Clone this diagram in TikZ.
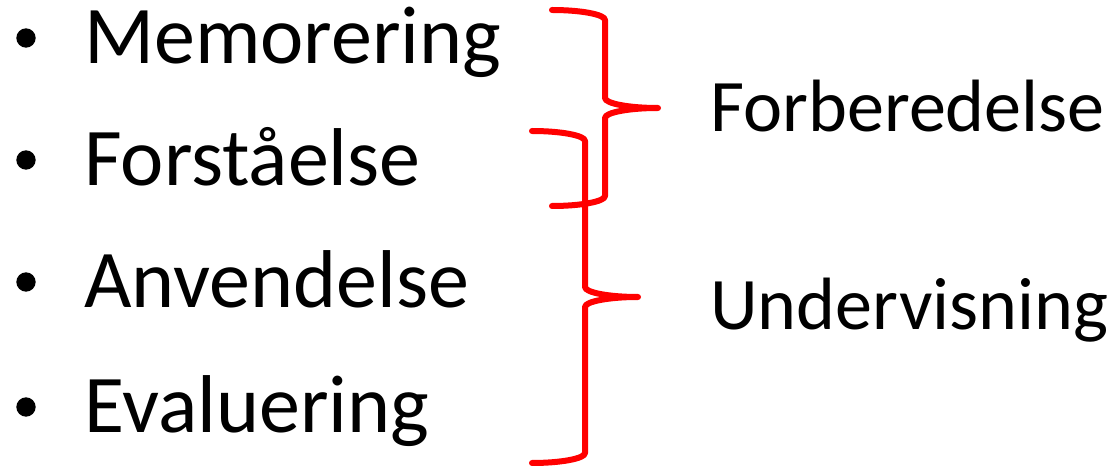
\documentclass[tikz,border=0pt]{standalone}
\usepackage{fontspec}
\setmainfont{Carlito}
\begin{document}
\begin{tikzpicture}[x=0.75pt,y=-0.75pt,
  item/.style={anchor=base west,inner sep=0pt,font=\fontsize{61.5pt}{61.5pt}\selectfont},
  label/.style={anchor=base west,inner sep=0pt,font=\fontsize{55.6pt}{55.6pt}\selectfont},
  dot/.style={circle,fill=black,inner sep=0pt,minimum size=14.5pt},
  brace/.style={draw=red,line width=4.5pt,line cap=round,line join=round}]
\useasboundingbox (0,0) rectangle (1111,466);

% bulleted list
\foreach \name/\txt/\yb in {m/Memorering/64, f/Forståelse/186, a/Anvendelse/308, e/Evaluering/433}{
  \node[dot] (b\name) at (26,\yb-26) {};
  \node[item] (t\name) at (84,\yb) {\txt};
}

% group labels
\node[label] (prep) at (710,132) {Forberedelse};
\node[label] (teach) at (710,330) {Undervisning};

% upper brace: Memorering--Forståelse
\coordinate (u1) at (552,10);
\coordinate (u2) at (552,206);
\coordinate (utip) at (658,108);
\path[brace] (u1) .. controls (581,10) and (605,14.5) .. (605,20)
  -- (605,98) .. controls (605,103.5) and (629,108) .. (utip)
  .. controls (629,108) and (605,112.5) .. (605,118)
  -- (605,196) .. controls (605,201.5) and (581,206) .. (u2);

% lower brace: Forståelse--Evaluering
\coordinate (l1) at (532,131);
\coordinate (l2) at (532,463);
\coordinate (ltip) at (638,297);
\path[brace] (l1) .. controls (561,131) and (585,135.5) .. (585,141)
  -- (585,287) .. controls (585,292.5) and (609,297) .. (ltip)
  .. controls (609,297) and (585,301.5) .. (585,307)
  -- (585,453) .. controls (585,458.5) and (561,463) .. (l2);
\end{tikzpicture}
\end{document}
